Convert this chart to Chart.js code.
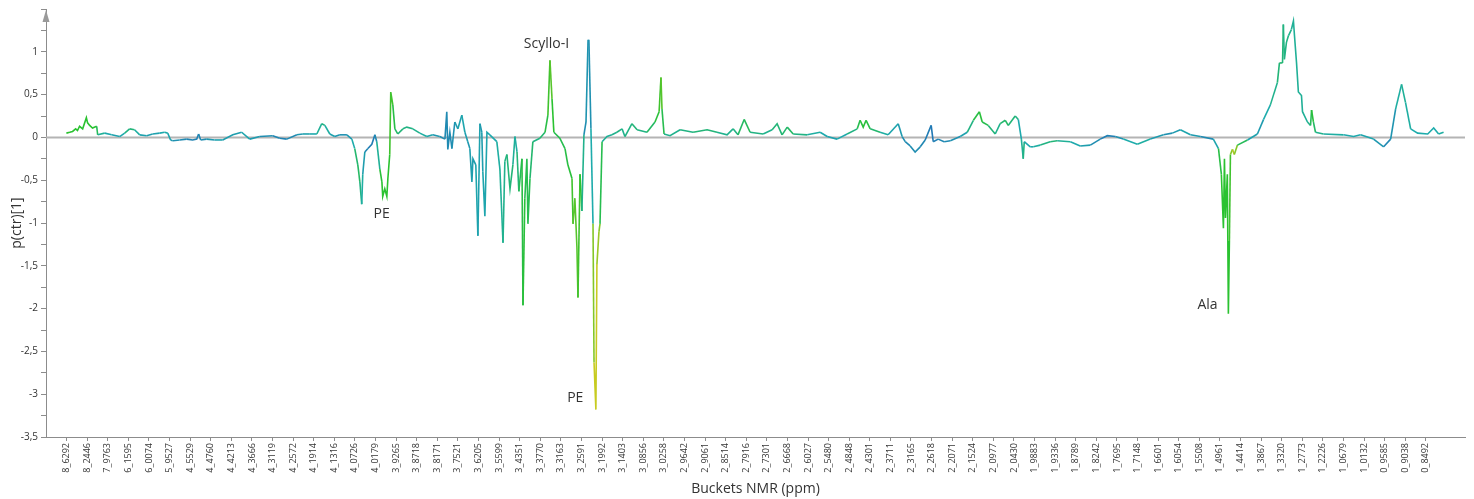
<!DOCTYPE html>
<html>
<head>
<meta charset="utf-8">
<title>p(ctr)[1] loadings</title>
<script src="https://cdn.jsdelivr.net/npm/chart.js@4.4.0/dist/chart.umd.min.js"></script>
<style>
    html, body { margin: 0; padding: 0; background: #fff; }
    #wrap { width: 1474px; height: 499px; }
</style>
</head>
<body>
<div id="wrap"><canvas id="loadingChart"></canvas></div>
<script>
// Bucket labels (ppm), one every 10 buckets
const bucketLabels = [
    '8_6292','8_2446','7_9763','6_1595','6_0074','5_9527','4_5529','4_4760','4_4213','4_3666',
    '4_3119','4_2572','4_1914','4_1316','4_0726','4_0179','3_9265','3_8718','3_8171','3_7521',
    '3_6205','3_5599','3_4351','3_3770','3_3163','3_2591','3_1992','3_1403','3_0856','3_0258',
    '2_9642','2_9061','2_8514','2_7916','2_7301','2_6668','2_6027','2_5480','2_4848','2_4301',
    '2_3711','2_3165','2_2618','2_2071','2_1524','2_0977','2_0430','1_9883','1_9336','1_8789',
    '1_8242','1_7695','1_7148','1_6601','1_6054','1_5508','1_4961','1_4414','1_3867','1_3320',
    '1_2773','1_2226','1_0679','1_0132','0_9585','0_9038','0_8492'
];

// Bucket position of each point
const bucketPos = [
    -0.1, 1.5, 2.9, 4.4, 5.3, 6.3, 7.8, 9.6, 10.2, 11.2,
    12.6, 14.6, 15.1, 18.5, 21.9, 25.8, 28.2, 30.6, 33.0, 35.5,
    38.9, 41.8, 45.2, 47.6, 49.1, 50.5, 51.5, 54.9, 58.3, 61.2,
    63.2, 64.1, 65.1, 68.0, 71.9, 75.8, 80.7, 85.0, 88.9, 93.8,
    100.1, 103.5, 106.9, 111.8, 114.7, 118.1, 121.5, 123.9, 125.4, 127.8,
    130.2, 132.7, 136.1, 138.5, 139.9, 141.4, 142.4, 143.3, 143.8, 144.8,
    146.3, 148.2, 149.7, 150.6, 152.1, 153.1, 153.5, 154.5, 155.5, 156.0,
    156.9, 157.4, 158.4, 159.4, 160.8, 163.3, 165.2, 168.1, 171.5, 174.9,
    177.8, 181.2, 183.7, 184.6, 185.1, 186.1, 187.1, 188.5, 190.0, 191.9,
    193.4, 194.8, 195.8, 196.8, 197.3, 198.7, 199.7, 200.7, 201.6, 202.1,
    203.1, 204.1, 205.5, 208.9, 210.4, 211.9, 212.8, 213.8, 215.3, 216.7,
    217.7, 218.7, 219.6, 221.1, 221.6, 222.5, 223.5, 224.0, 225.0, 226.4,
    229.8, 232.3, 233.7, 234.7, 235.7, 236.6, 239.5, 242.0, 243.4, 245.4,
    245.9, 246.8, 247.8, 248.3, 249.3, 250.2, 251.2, 252.2, 253.2, 253.6,
    254.6, 255.6, 256.1, 257.0, 257.5, 258.5, 259.0, 260.0, 262.4, 264.8,
    267.2, 269.7, 271.1, 274.5, 277.0, 281.8, 285.7, 287.7, 288.6, 289.1,
    290.1, 293.0, 297.9, 304.2, 311.0, 315.8, 320.7, 323.6, 326.0, 329.0,
    331.9, 338.2, 342.6, 345.0, 347.4, 349.9, 352.8, 359.6, 365.9, 369.3,
    374.1, 379.0, 383.9, 385.3, 386.8, 388.2, 390.2, 395.0, 398.9, 403.8,
    405.7, 407.2, 409.6, 412.0, 414.5, 416.9, 419.8, 420.8, 423.2, 426.1,
    429.1, 433.9, 437.3, 440.3, 443.2, 444.6, 447.5, 450.9, 453.3, 455.8,
    457.2, 460.6, 462.1, 463.6, 464.5, 465.0, 467.9, 469.4, 472.8, 477.6,
    481.0, 487.4, 492.2, 497.1, 501.9, 505.3, 509.2, 513.1, 519.9, 526.2,
    532.6, 536.9, 540.8, 545.7, 550.5, 556.8, 559.3, 560.7, 561.7, 562.2,
    562.7, 563.6, 564.1, 564.6, 565.1, 566.1, 567.0, 568.5, 573.4, 578.2,
    581.2, 584.5, 587.9, 588.9, 590.4, 590.8, 591.3, 592.3, 593.3, 594.7,
    595.7, 596.2, 597.2, 598.1, 599.6, 600.1, 602.5, 604.0, 604.5, 605.4,
    606.4, 610.3, 620.0, 624.9, 628.3, 634.6, 639.5, 642.9, 645.3, 648.2,
    650.1, 652.6, 656.0, 660.9, 663.8, 666.2, 668.6
];

// p(ctr)[1] loading values
const loadings = [
    0.05, 0.06, 0.07, 0.10, 0.08, 0.13, 0.10, 0.23, 0.17, 0.14,
    0.11, 0.13, 0.03, 0.05, 0.03, 0.01, 0.05, 0.10, 0.09, 0.03,
    0.02, 0.04, 0.05, 0.06, 0.05, -0.03, -0.04, -0.03, -0.02, -0.03,
    -0.02, 0.04, -0.03, -0.02, -0.03, -0.03, 0.03, 0.06, -0.02, 0.01,
    0.02, -0.01, -0.02, 0.03, 0.04, 0.04, 0.04, 0.16, 0.14, 0.04,
    0.01, 0.03, 0.03, -0.02, -0.13, -0.32, -0.52, -0.78, -0.43, -0.17,
    -0.13, -0.08, 0.03, -0.05, -0.37, -0.52, -0.69, -0.60, -0.69, -0.48,
    -0.20, 0.53, 0.38, 0.10, 0.04, 0.10, 0.12, 0.10, 0.05, 0.01,
    0.03, 0.01, -0.02, 0.30, -0.14, 0.06, -0.13, 0.18, 0.10, 0.26,
    0.06, -0.05, -0.13, -0.52, -0.25, -0.32, -1.15, 0.16, 0.06, -0.40,
    -0.92, 0.06, 0.03, -0.05, -0.37, -1.23, -0.28, -0.20, -0.60, -0.32,
    0.01, -0.17, -0.63, -0.25, -1.96, -0.71, -0.25, -1.01, -0.48, -0.05,
    -0.01, 0.06, 0.26, 0.90, 0.45, 0.06, -0.01, -0.13, -0.32, -0.48,
    -1.01, -0.71, -1.29, -1.87, -0.43, -0.86, 0.03, 0.18, 1.14, 1.14,
    0.10, -1.01, -2.63, -3.18, -1.48, -1.10, -1.01, -0.05, 0.01, 0.03,
    0.06, 0.10, 0.01, 0.16, 0.09, 0.06, 0.18, 0.30, 0.70, 0.33,
    0.04, 0.02, 0.09, 0.06, 0.09, 0.06, 0.03, 0.10, 0.03, 0.21,
    0.06, 0.04, 0.09, 0.16, 0.03, 0.12, 0.04, 0.03, 0.06, 0.01,
    -0.02, 0.04, 0.10, 0.20, 0.12, 0.20, 0.10, 0.06, 0.03, 0.16,
    0.01, -0.05, -0.10, -0.17, -0.11, -0.03, 0.14, -0.05, -0.02, -0.05,
    -0.04, 0.01, 0.06, 0.20, 0.30, 0.18, 0.14, 0.04, 0.16, 0.20,
    0.14, 0.25, 0.21, -0.02, -0.25, -0.05, -0.11, -0.11, -0.09, -0.05,
    -0.04, -0.05, -0.10, -0.09, -0.02, 0.02, 0.01, -0.02, -0.08, -0.02,
    0.03, 0.05, 0.09, 0.03, 0.01, -0.02, -0.13, -0.43, -1.06, -0.25,
    -0.94, -0.43, -2.06, -1.21, -0.20, -0.14, -0.20, -0.09, -0.03, 0.04,
    0.21, 0.38, 0.64, 0.87, 0.87, 1.32, 0.91, 1.11, 1.19, 1.26,
    1.36, 1.19, 0.87, 0.53, 0.49, 0.30, 0.18, 0.14, 0.32, 0.18,
    0.06, 0.04, 0.03, 0.01, 0.03, -0.02, -0.11, -0.02, 0.33, 0.62,
    0.41, 0.10, 0.05, 0.04, 0.11, 0.04, 0.06
];

// Correlation weight used to colour the line (0 = blue, 1 = yellow)
const corrWeight = [
    .8, .8, .8, .8, .8, .8, .8, .8, .8, .8,
    .8, .8, .6, .5, .45, .4, .55, .65, .6, .45,
    .4, .4, .45, .5, .5, .4, .3, .3, .2, .2,
    .2, .2, .25, .3, .4, .45, .35, .45, .45, .3,
    .25, .2, .2, .3, .4, .45, .5, .6, .6, .45,
    .4, .3, .3, .4, .6, .7, .65, .55, .5, .3,
    .15, .15, .15, .35, .75, .8, .8, .8, .8, .8,
    .8, .85, .8, .7, .65, .6, .6, .6, .55, .5,
    .4, .3, .25, .25, .25, .25, .25, .35, .4, .45,
    .45, .35, .35, .45, .35, .45, .45, .4, .35, .45,
    .45, .45, .45, .5, .55, .55, .6, .6, .65, .6,
    .5, .55, .7, .7, .8, .75, .7, .75, .7, .6,
    .6, .7, .8, .85, .85, .75, .7, .75, .75, .8,
    .85, .85, .85, .85, .8, .8, .35, .2, .45, .45,
    .15, .85, .95, 1, .95, .9, .9, .55, .55, .55,
    .6, .6, .55, .65, .6, .6, .75, .8, .85, .85,
    .6, .55, .6, .6, .65, .6, .55, .6, .6, .75,
    .65, .55, .6, .65, .6, .7, .65, .55, .5, .45,
    .4, .55, .65, .8, .75, .8, .7, .6, .45, .45,
    .3, .25, .25, .3, .25, .2, .1, .15, .2, .25,
    .25, .35, .5, .7, .8, .75, .7, .55, .6, .7,
    .65, .6, .6, .35, .75, .45, .45, .5, .55, .65,
    .6, .5, .45, .35, .2, .15, .2, .4, .6, .45,
    .3, .3, .45, .45, .3, .2, .7, .8, .8, .8,
    .8, .8, .8, .8, .85, .95, .95, .85, .55, .3,
    .45, .55, .6, .65, .65, .6, .6, .6, .6, .55,
    .55, .55, .55, .55, .55, .55, .55, .6, .8, .75,
    .6, .55, .5, .45, .5, .4, .3, .15, .5, .55,
    .55, .5, .5, .5, .5, .5, .55
];

// Peak annotations (bucket, loading)
const peakNames = ['PE', 'Scyllo-I', 'PE', 'Ala'];
const peakBucket = [153, 233, 247, 554];
const peakValue = [-0.9, 1.09, -3.05, -1.96];

// Colour scale: blue -> teal -> green -> yellow
const colourStops = [
    [0.0, [34, 104, 184]],
    [0.5, [30, 172, 172]],
    [0.8, [42, 194, 48]],
    [1.0, [222, 204, 30]]
];

function weightColour(w) {
    for (let i = 1; i < colourStops.length; i++) {
        if (w <= colourStops[i][0]) {
            const [w0, c0] = colourStops[i - 1];
            const [w1, c1] = colourStops[i];
            const t = (w - w0) / (w1 - w0);
            const c = c0.map((v, k) => Math.round(v + (c1[k] - v) * t));
            return `rgb(${c[0]}, ${c[1]}, ${c[2]})`;
        }
    }
    return 'rgb(222, 204, 30)';
}

const axisGrey = '#8c8c8c';
const textGrey = '#333333';
const fontFamily = '"Open Sans", "Segoe UI", Arial, sans-serif';

// Zero line, axis arrow and peak labels
const extrasPlugin = {
    id: 'extras',
    beforeDatasetsDraw(chart) {
        const { ctx, chartArea, scales } = chart;
        const y0 = scales.y.getPixelForValue(0);
        ctx.save();
        ctx.strokeStyle = '#b4b4b4';
        ctx.lineWidth = 2;
        ctx.beginPath();
        ctx.moveTo(chartArea.left, y0);
        ctx.lineTo(chartArea.right, y0);
        ctx.stroke();
        ctx.restore();
    },
    afterDraw(chart) {
        const { ctx, chartArea, scales } = chart;
        ctx.save();
        // arrow on top of the y axis
        ctx.fillStyle = '#9a9a9a';
        ctx.beginPath();
        ctx.moveTo(chartArea.left, chartArea.top + 1);
        ctx.lineTo(chartArea.left - 3.5, chartArea.top + 13);
        ctx.lineTo(chartArea.left + 3.5, chartArea.top + 13);
        ctx.closePath();
        ctx.fill();

        ctx.fillStyle = textGrey;
        ctx.font = `14px ${fontFamily}`;
        ctx.textAlign = 'center';
        ctx.textBaseline = 'middle';
        peakNames.forEach((name, i) => {
            ctx.fillText(name, scales.x.getPixelForValue(peakBucket[i]), scales.y.getPixelForValue(peakValue[i]));
        });
        ctx.restore();
    }
};

const ctx = document.getElementById('loadingChart').getContext('2d');
const chart = new Chart(ctx, {
    type: 'line',
    data: {
        datasets: [{
            data: bucketPos.map((b, i) => ({ x: b, y: loadings[i] })),
            borderColor: '#1eacac',
            borderWidth: 1.6,
            pointRadius: 0,
            tension: 0,
            segment: {
                borderColor: c => weightColour((corrWeight[c.p0DataIndex] + corrWeight[c.p1DataIndex]) / 2)
            }
        }]
    },
    options: {
        animation: false,
        responsive: true,
        maintainAspectRatio: false,
        layout: { padding: { top: 6, right: 9, left: 0, bottom: 0 } },
        plugins: {
            legend: { display: false },
            tooltip: { enabled: false }
        },
        scales: {
            x: {
                type: 'linear',
                min: -10,
                max: 679,
                afterBuildTicks: scale => {
                    scale.ticks = bucketLabels.map((_, i) => ({ value: i * 10 }));
                },
                afterFit: scale => { scale.height = 62; },
                grid: {
                    drawOnChartArea: false,
                    drawTicks: true,
                    tickLength: 4,
                    color: axisGrey
                },
                border: { color: axisGrey, width: 1 },
                ticks: {
                    autoSkip: false,
                    minRotation: 90,
                    maxRotation: 90,
                    padding: 2,
                    color: textGrey,
                    font: { family: fontFamily, size: 9 },
                    callback: v => bucketLabels[Math.round(v / 10)]
                },
                title: {
                    display: true,
                    text: 'Buckets NMR (ppm)',
                    color: textGrey,
                    font: { family: fontFamily, size: 14 },
                    padding: { top: 0, bottom: 2 }
                }
            },
            y: {
                min: -3.5,
                max: 1.5,
                afterFit: scale => { scale.width = 46; },
                grid: {
                    drawOnChartArea: false,
                    drawTicks: true,
                    tickLength: 5,
                    color: axisGrey
                },
                border: { color: axisGrey, width: 1 },
                ticks: {
                    stepSize: 0.25,
                    autoSkip: false,
                    padding: 3,
                    color: textGrey,
                    font: { family: fontFamily, size: 10 },
                    callback: v => {
                        const half = Math.abs(v * 2 - Math.round(v * 2)) < 1e-6;
                        return (half && v < 1.4) ? String(v).replace('.', ',') : '';
                    }
                },
                title: {
                    display: true,
                    text: 'p(ctr)[1]',
                    color: textGrey,
                    font: { family: fontFamily, size: 14 },
                    padding: { top: 9, bottom: 0 }
                }
            }
        }
    },
    plugins: [extrasPlugin]
});
</script>
</body>
</html>
